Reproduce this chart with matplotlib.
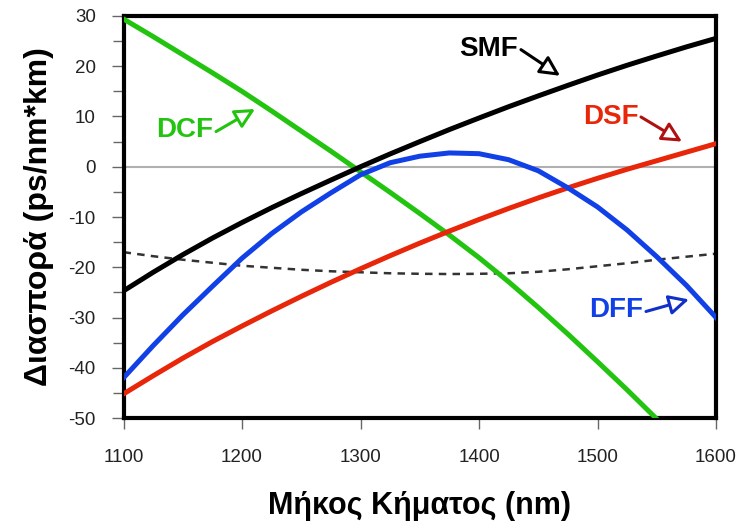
import numpy as np
import matplotlib
matplotlib.use("Agg")
import matplotlib.pyplot as plt
from matplotlib.ticker import MultipleLocator

plt.rcParams['font.family'] = ['Liberation Sans', 'DejaVu Sans']
plt.rcParams['axes.unicode_minus'] = False

# wavelength grid (nm) and dispersion readings (ps/nm*km)
wl = [1100, 1125, 1150, 1175, 1200, 1225, 1250, 1275, 1300, 1325, 1350,
      1375, 1400, 1425, 1450, 1475, 1500, 1525, 1550, 1575, 1600]
smf = [-24.7, -21.0, -17.5, -14.2, -11.1, -8.15, -5.35, -2.65, 0.0, 2.55, 5.0,
       7.4, 9.7, 11.95, 14.1, 16.2, 18.25, 20.2, 22.05, 23.85, 25.55]
dcf = [29.4, 25.9, 22.3, 18.7, 15.0, 11.1, 7.1, 3.1, -1.0, -5.1, -9.3,
       -13.6, -18.1, -22.9, -28.0, -33.3, -38.8, -44.4, -50.2, -56.2, -62.5]
dsf = [-45.2, -41.6, -38.1, -34.8, -31.7, -28.7, -25.8, -23.0, -20.3, -17.7, -15.2,
       -12.8, -10.5, -8.3, -6.2, -4.2, -2.3, -0.5, 1.2, 2.9, 4.6]
dff = [-42.0, -35.6, -29.5, -23.8, -18.2, -13.3, -9.0, -5.2, -1.6, 0.8, 2.1,
       2.75, 2.6, 1.4, -0.8, -4.2, -8.0, -12.6, -17.9, -23.6, -30.0]
dashed = [-17.0, -17.8, -18.5, -19.1, -19.7, -20.1, -20.5, -20.8, -21.0, -21.2, -21.3,
          -21.35, -21.3, -21.2, -20.9, -20.4, -19.8, -19.2, -18.5, -17.9, -17.3]

green = '#22c40f'
blue = '#1040e6'
red = '#e8260a'

fig = plt.figure(figsize=(7.41, 5.26), dpi=100)
ax = fig.add_axes([0.1667, 0.2053, 0.7996, 0.7643])

ax.axhline(0, color='#b0b0b0', lw=1.5, zorder=1)
ax.plot(wl, dashed, color='#333333', lw=1.8, dashes=(3, 2.5), zorder=2)
ax.plot(wl, dcf, color=green, lw=3.6, zorder=3, solid_joinstyle='round')
ax.plot(wl, dsf, color=red, lw=3.6, zorder=3, solid_joinstyle='round')
ax.plot(wl, dff, color=blue, lw=3.6, zorder=3, solid_joinstyle='round')
ax.plot(wl, smf, color='black', lw=3.6, zorder=4, solid_joinstyle='round')

ax.set_xlim(1100, 1600)
ax.set_ylim(-50, 30)
ax.set_xticks([1100, 1200, 1300, 1400, 1500, 1600])
ax.yaxis.set_major_locator(MultipleLocator(10))
ax.yaxis.set_minor_locator(MultipleLocator(5))

for s in ax.spines.values():
    s.set_linewidth(3)
ax.tick_params(axis='y', which='major', length=9, width=1, color='#666666',
               pad=11, labelsize=13.5, labelcolor='#222222')
ax.tick_params(axis='y', which='minor', length=8, width=1, color='#666666')
ax.tick_params(axis='x', which='major', length=8, width=1, color='#666666',
               pad=14, labelsize=13.5, labelcolor='#222222')

ax.set_xlabel('Μήκος Κήματος (nm)', fontsize=22, fontweight='bold', labelpad=18)
ax.set_ylabel('Διασπορά (ps/nm*km)', fontsize=23, fontweight='bold', labelpad=10)

# curve labels with open-headed arrows
labels = [
    ('SMF', 'black', 'black', (1408.4, 23.4), (1435.4, 23.3), (1468.4, 18.1)),
    ('DSF', red, '#b01010', (1511.0, 9.9), (1536.7, 9.9), (1571.3, 5.0)),
    ('DCF', green, green, (1151.9, 7.4), (1178.1, 7.0), (1211.0, 11.5)),
    ('DFF', blue, '#1030c8', (1515.6, -28.6), (1540.9, -28.8), (1577.2, -26.4)),
]
for name, tc, ac, txy, start, tip in labels:
    ax.text(txy[0], txy[1], name, color=tc, fontsize=20, fontweight='bold',
            ha='center', va='center', zorder=6)
    ax.annotate('', xy=tip, xytext=start,
                arrowprops=dict(arrowstyle='-|>,head_length=0.6,head_width=0.3',
                                mutation_scale=20, lw=2.2, ec=ac, fc='white',
                                shrinkA=0, shrinkB=0), zorder=6)

fig.savefig('out.png', dpi=100)
